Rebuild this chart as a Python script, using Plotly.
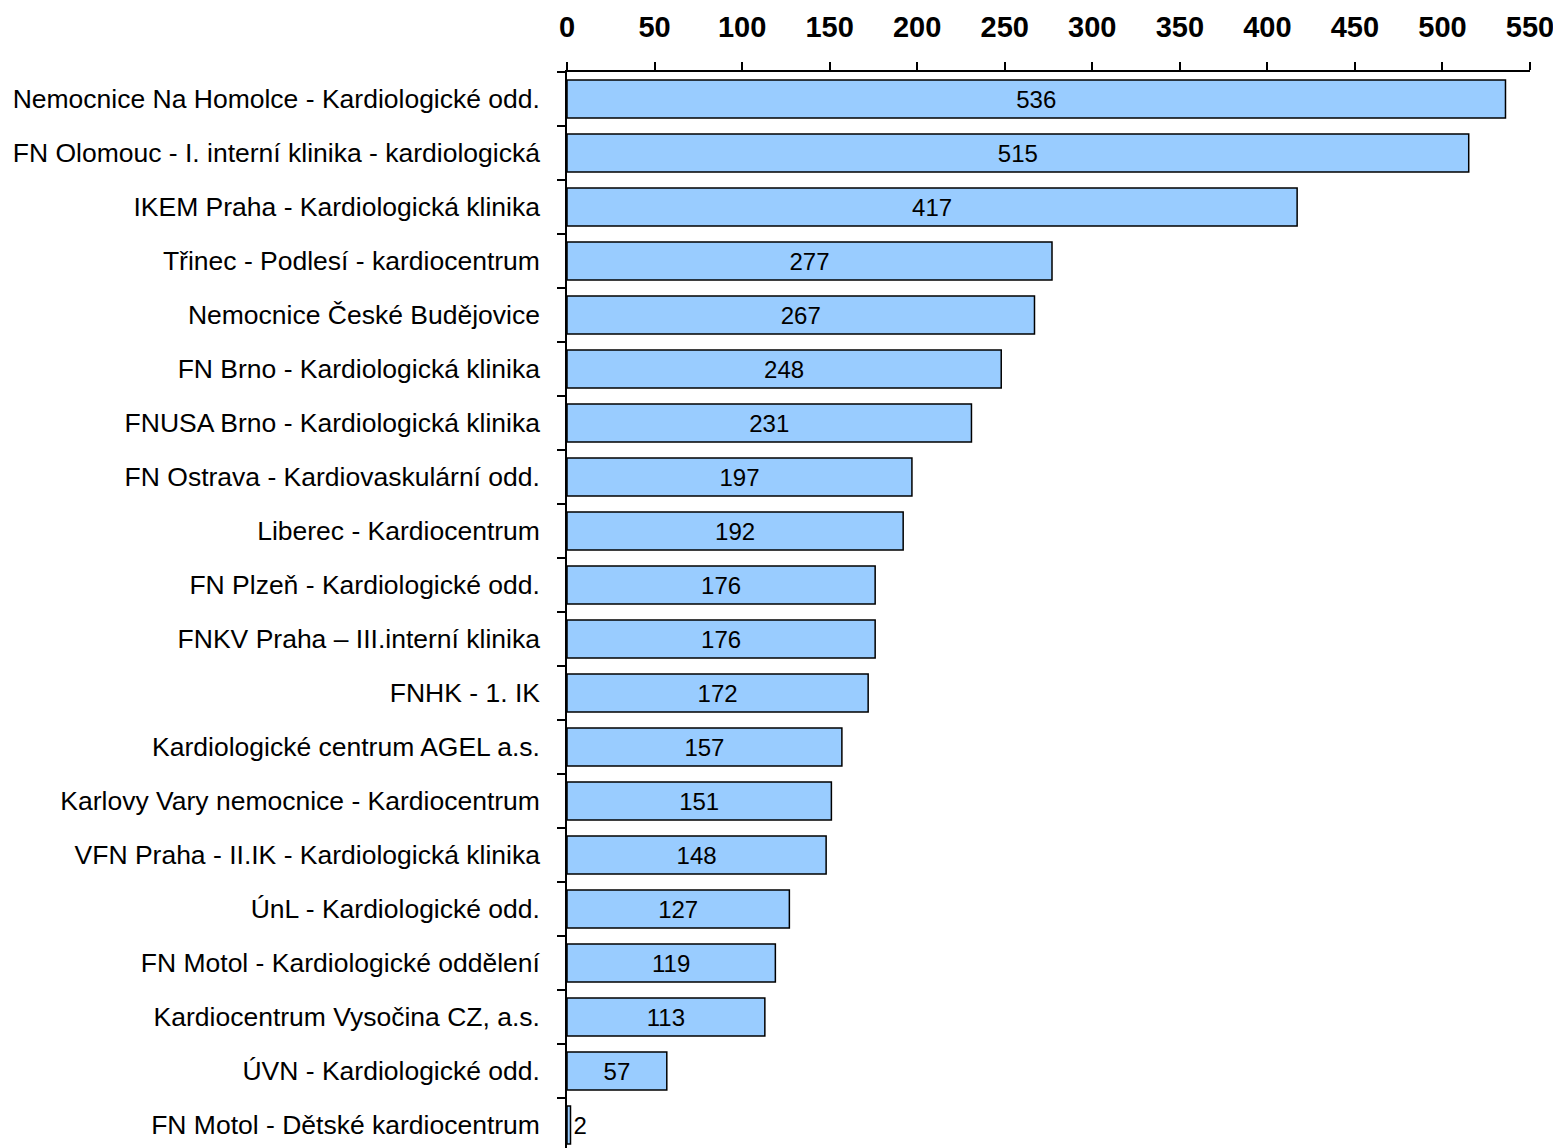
import plotly.graph_objects as go

categories = [
    "Nemocnice Na Homolce - Kardiologické odd.",
    "FN Olomouc - I. interní klinika - kardiologická",
    "IKEM Praha - Kardiologická klinika",
    "Třinec - Podlesí - kardiocentrum",
    "Nemocnice České Budějovice",
    "FN Brno - Kardiologická klinika",
    "FNUSA Brno - Kardiologická klinika",
    "FN Ostrava - Kardiovaskulární odd.",
    "Liberec - Kardiocentrum",
    "FN Plzeň - Kardiologické odd.",
    "FNKV Praha – III.interní klinika",
    "FNHK - 1. IK",
    "Kardiologické centrum AGEL a.s.",
    "Karlovy Vary nemocnice - Kardiocentrum",
    "VFN Praha - II.IK - Kardiologická klinika",
    "ÚnL - Kardiologické odd.",
    "FN Motol - Kardiologické oddělení",
    "Kardiocentrum Vysočina CZ, a.s.",
    "ÚVN - Kardiologické odd.",
    "FN Motol - Dětské kardiocentrum",
]
values = [536, 515, 417, 277, 267, 248, 231, 197, 192, 176, 176, 172, 157, 151, 148, 127, 119, 113, 57, 2]
x_ticks = list(range(0, 551, 50))

fig = go.Figure(go.Bar(
    x=values, y=categories, orientation="h",
    marker=dict(color="#99CCFF", line=dict(color="black", width=1.5)),
    text=[str(v) for v in values], textposition="auto", insidetextanchor="middle",
    insidetextfont=dict(color="black", size=24, family="Liberation Sans, Arial"),
    outsidetextfont=dict(color="black", size=24, family="Liberation Sans, Arial"),
    constraintext="none", cliponaxis=False,
))

fig.update_layout(
    width=1561, height=1148,
    margin=dict(l=559, r=39, t=64, b=4),
    plot_bgcolor="white", paper_bgcolor="white",
    bargap=0.3, showlegend=False,
    font=dict(family="Liberation Sans, Arial", color="black"),
)
fig.update_xaxes(
    side="top", range=[0, 550], tickvals=x_ticks, ticktext=[str(t) for t in x_ticks],
    showgrid=False, zeroline=False, showline=True, linecolor="black", linewidth=1.5,
    ticks="outside", ticklen=8, tickwidth=1.5, tickcolor="black",
    tickfont=dict(size=29, family="Liberation Sans, Arial", color="black", weight="bold"),
    ticklabelstandoff=14,
)
fig.update_yaxes(
    type="category", autorange=False, range=[19.5, -0.5],
    showgrid=False, zeroline=False, showline=True, linecolor="black", linewidth=1.5,
    ticks="outside", ticklen=8, tickwidth=1.5, tickcolor="black", tickson="boundaries",
    tickfont=dict(size=26.5, family="Liberation Sans, Arial", color="black"),
    ticklabelstandoff=20,
)

fig.write_html("out.html")
